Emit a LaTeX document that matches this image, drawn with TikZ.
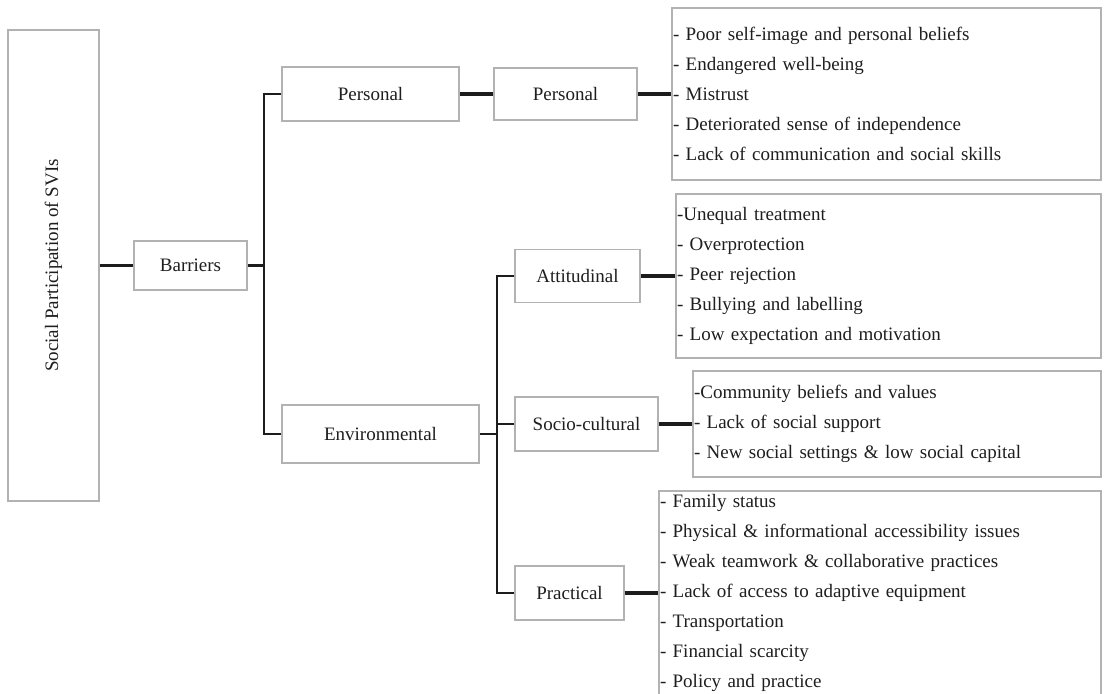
\documentclass[tikz,border=0pt]{standalone}
\usepackage{fontspec}
\setmainfont{Liberation Serif}
\newcommand\diagfont{\fontsize{19}{30}\selectfont}
\definecolor{boxgray}{RGB}{178,178,178}
\definecolor{ink}{RGB}{28,28,28}
\definecolor{txt}{RGB}{30,30,30}
\begin{document}
\begin{tikzpicture}[x=1pt,y=-1pt,
  box/.style={draw=boxgray, line width=1.2pt, inner sep=0pt, font=\diagfont, text=txt},
  listbox/.style={box, inner xsep=1pt, align=left},
  tree/.style={draw=ink, line width=2.2pt},
  link/.style={draw=ink, line width=3.2pt}]
\useasboundingbox (0,0) rectangle (1105,693);

% main concept and first level
\node[box, minimum width=91pt, minimum height=471pt] (svi) at (53.5,265.5)
  {\rotatebox{90}{Social Participation of SVIs}};
\node[box, minimum width=113pt, minimum height=49pt] (bar) at (190.5,265.5) {Barriers};

% barrier types
\node[box, minimum width=177pt, minimum height=54pt] (per1) at (370.5,94) {Personal};
\node[box, minimum width=197pt, minimum height=58pt] (env) at (380.5,434) {Environmental};

% sub-categories
\node[box, minimum width=143pt, minimum height=52pt] (per2) at (565.5,94) {Personal};
\node[box, minimum width=125pt, minimum height=53pt] (att) at (577.5,276) {Attitudinal};
\node[box, minimum width=143pt, minimum height=54pt] (soc) at (586.5,424) {Socio-cultural};
\node[box, minimum width=109pt, minimum height=54pt] (prac) at (569.5,593) {Practical};

% item lists
\node[listbox, text width=427pt, minimum height=172pt] (plist) at (886.5,94)
  {- Poor self-image and personal beliefs\\
   - Endangered well-being\\
   - Mistrust\\
   - Deteriorated sense of independence\\
   - Lack of communication and social skills};
\node[listbox, text width=423pt, minimum height=164pt] (alist) at (888.5,276)
  {-Unequal treatment\\
   - Overprotection\\
   - Peer rejection\\
   - Bullying and labelling\\
   - Low expectation and motivation};
\node[listbox, text width=406pt, minimum height=106pt] (slist) at (897,424)
  {-Community beliefs and values\\
   - Lack of social support\\
   - New social settings \& low social capital};
\node[listbox, text width=440pt, minimum height=204pt] (prlist) at (880,593)
  {- Family status\\
   - Physical \& informational accessibility issues\\
   - Weak teamwork \& collaborative practices\\
   - Lack of access to adaptive equipment\\
   - Transportation\\
   - Financial scarcity\\
   - Policy and practice};

% branching points
\coordinate (j1) at (264,265.5);
\coordinate (j2) at (497,434);

% connectors
\draw[link] (svi.east) -- (bar.west);
\draw[tree] (bar.east) -- (j1);
\draw[tree] (per1.west) -| (j1) |- (env.west);
\draw[link] (per1.east) -- (per2.west);
\draw[link] (per2.east) -- (plist.west);
\draw[tree] (env.east) -- (j2);
\draw[tree] (att.west) -| (j2) |- (prac.west);
\draw[tree] (soc.west) -- (soc.west -| j2);
\draw[link] (att.east) -- (att.east -| alist.west);
\draw[link] (soc.east) -- (soc.east -| slist.west);
\draw[link] (prac.east) -- (prac.east -| prlist.west);
\end{tikzpicture}
\end{document}
